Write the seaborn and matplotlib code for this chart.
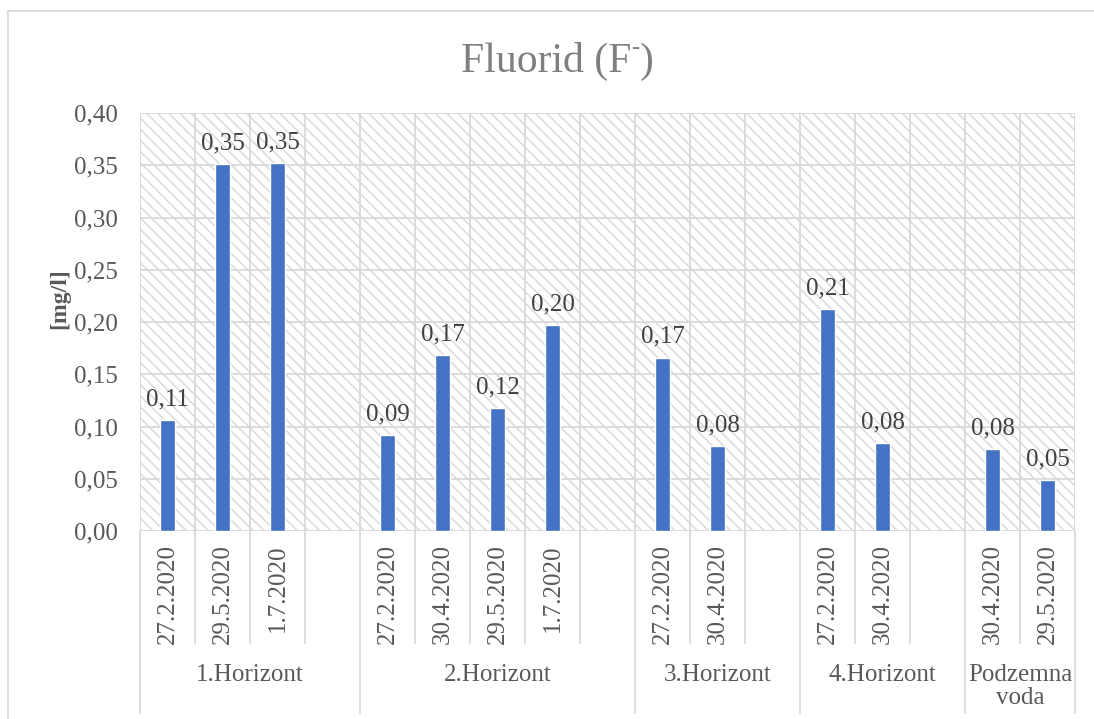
import matplotlib
matplotlib.use("Agg")
import matplotlib.pyplot as plt
import matplotlib.transforms as mtransforms
from matplotlib.patches import Rectangle
import seaborn as sns
import pandas as pd

# ---- data ----
groups = ["1.Horizont", "2.Horizont", "3.Horizont", "4.Horizont", "Podzemna\nvoda"]
dates_h1 = ["27.2.2020", "29.5.2020", "1.7.2020"]
dates_h2 = ["27.2.2020", "30.4.2020", "29.5.2020", "1.7.2020"]
dates_h3 = ["27.2.2020", "30.4.2020"]
dates_h4 = ["27.2.2020", "30.4.2020"]
dates_pv = ["30.4.2020", "29.5.2020"]
vals_h1 = [0.106, 0.351, 0.352]
vals_h2 = [0.092, 0.168, 0.118, 0.197]
vals_h3 = [0.166, 0.081]
vals_h4 = [0.212, 0.084]
vals_pv = [0.078, 0.049]
yticks = [0.00, 0.05, 0.10, 0.15, 0.20, 0.25, 0.30, 0.35, 0.40]
title_main = "Fluorid (F"
title_sup = "-"
title_end = ")"
ylabel = "[mg/l]"

group_dates = [dates_h1, dates_h2, dates_h3, dates_h4, dates_pv]
group_vals = [vals_h1, vals_h2, vals_h3, vals_h4, vals_pv]
# each group except the last has one empty slot after it
group_slots = [len(d) + (1 if i < len(group_dates) - 1 else 0) for i, d in enumerate(group_dates)]

rows = []
slot_labels = []
pos = 0
group_bounds = [0]
for gi, (g, ds, vs) in enumerate(zip(groups, group_dates, group_vals)):
    for d, v in zip(ds, vs):
        rows.append({"pos": pos, "date": d, "group": g, "value": v})
        slot_labels.append((pos, d))
        pos += 1
    pos += group_slots[gi] - len(ds)
    group_bounds.append(pos)
n_slots = pos
df = pd.DataFrame(rows)

# ---- style ----
sns.set_theme(style="white")
plt.rcParams["font.family"] = ["Liberation Serif", "DejaVu Serif"]
plt.rcParams["hatch.color"] = "#dadada"
plt.rcParams["hatch.linewidth"] = 1.1

txt = "#595959"
grid_c = "#d9d9d9"
bar_c = "#4472c4"
fs = 18

fig = plt.figure(figsize=(10.94, 7.19), dpi=100)
ax = fig.add_axes([140 / 1094, 1 - 531 / 719, 935 / 1094, 418 / 719])

# hatched background
ax.set_facecolor("white")
bg = Rectangle((0, 0), 1, 1, transform=ax.transAxes, facecolor="white",
               edgecolor="#dadada", linewidth=0, hatch="\\\\\\", zorder=0.1)
ax.add_patch(bg)

sns.barplot(data=df, x="pos", y="value", native_scale=True, color=bar_c,
            width=0.28, saturation=1, ax=ax, zorder=3, errorbar=None)

ax.set_xlim(-0.5, n_slots - 0.5)
ax.set_ylim(0, 0.40)
ax.set_yticks(yticks)
ax.set_yticklabels([f"{t:.2f}".replace(".", ",") for t in yticks], fontsize=fs, color=txt)
ax.tick_params(axis="y", length=0, pad=16)
ax.set_xticks([])
ax.set_xlabel("")
ax.set_ylabel(ylabel, fontsize=17, fontweight="bold", color=txt)
ax.yaxis.set_label_coords((70 - 140) / 935, (531 - 299) / 418)

# grid
for t in yticks:
    ax.axhline(t, color=grid_c, lw=1.3, zorder=1)
for b in range(n_slots + 1):
    ax.axvline(b - 0.5, color=grid_c, lw=1.3, zorder=1)
for s in ax.spines.values():
    s.set_visible(False)

# value labels
for c in ax.containers:
    ax.bar_label(c, labels=[f"{v:.2f}".replace(".", ",") for v in c.datavalues],
                 padding=7, fontsize=fs, color="#404040")

# multi-level category axis
trans = mtransforms.blended_transform_factory(ax.transData, ax.transAxes)
slot_low = -(643 - 531) / 418
grp_low = -(713 - 531) / 418
for b in range(n_slots + 1):
    edge = b - 0.5
    is_group = b in group_bounds
    ax.plot([edge, edge], [0, grp_low if is_group else slot_low], transform=trans,
            color=grid_c, lw=1.3, clip_on=False, zorder=1)
for p, d in slot_labels:
    ax.text(p, -(544 - 531) / 418, d, transform=trans, rotation=90, ha="center",
            va="top", fontsize=fs, color=txt)
for gi, g in enumerate(groups):
    cx = (group_bounds[gi] + group_bounds[gi + 1]) / 2 - 0.5
    ax.text(cx, -(664 - 531) / 418, g, transform=trans, ha="center", va="top",
            fontsize=fs, color=txt, linespacing=1.08)

# title built from pieces (small raised hyphen)
title_c = "#7f7f7f"
tfs = 30
renderer = fig.canvas.get_renderer()
y_base = 1 - 72 / 719
t1 = fig.text(0, y_base, title_main, ha="left", va="baseline", fontsize=tfs, color=title_c)
t2 = fig.text(0, y_base + 18 / 719, title_sup, ha="left", va="baseline", fontsize=tfs * 0.6, color=title_c)
t3 = fig.text(0, y_base, title_end, ha="left", va="baseline", fontsize=tfs, color=title_c)
w1 = t1.get_window_extent(renderer).width
w2 = t2.get_window_extent(renderer).width
w3 = t3.get_window_extent(renderer).width
total = w1 + w2 + w3
x0 = 557 - total / 2
t1.set_x(x0 / 1094)
t2.set_x((x0 + w1) / 1094)
t3.set_x((x0 + w1 + w2) / 1094)

# outer chart border (left/top visible)
fig.add_artist(plt.Line2D([8 / 1094, 8 / 1094], [0, 1 - 11 / 719],
                          transform=fig.transFigure, color=grid_c, lw=1.3))
fig.add_artist(plt.Line2D([8 / 1094, 1], [1 - 11 / 719, 1 - 11 / 719],
                          transform=fig.transFigure, color=grid_c, lw=1.3))

fig.savefig("out.png", dpi=100)
